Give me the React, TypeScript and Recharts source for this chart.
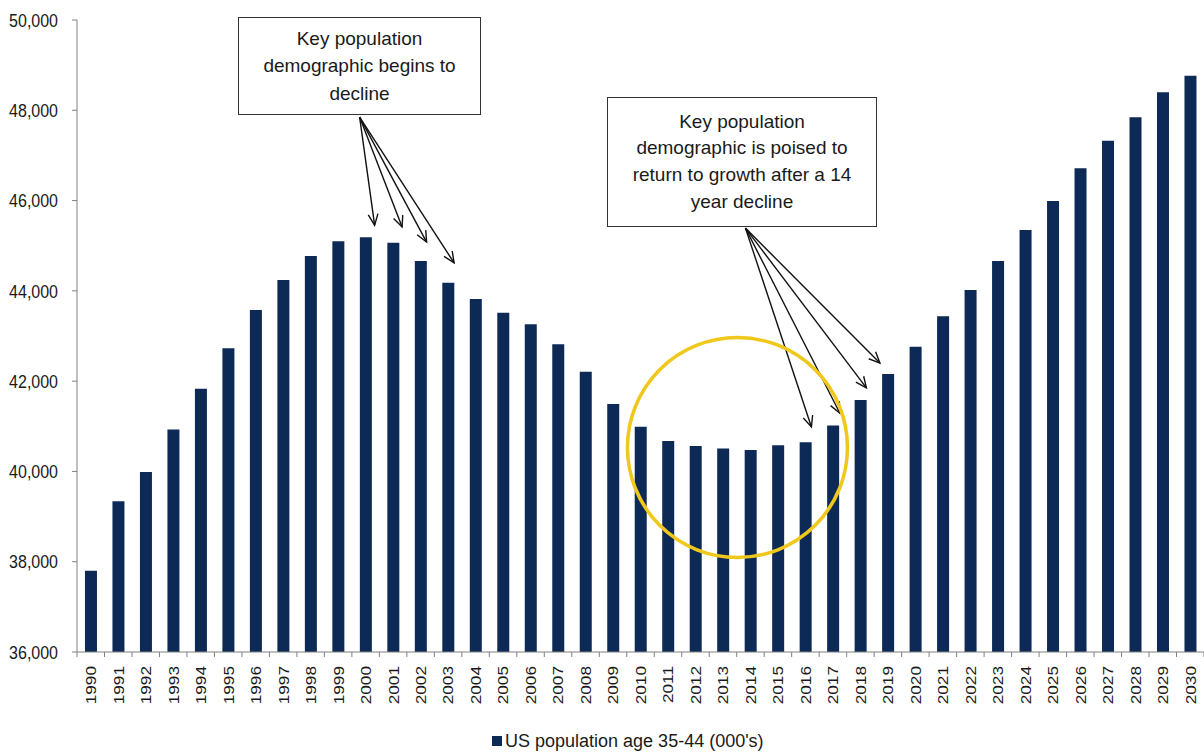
import React from "react";
import {
  BarChart,
  Bar,
  XAxis,
  YAxis,
  Legend,
  ReferenceLine,
  ReferenceDot,
} from "recharts";

// ---- data -------------------------------------------------------------
const YEARS = [
  "1990", "1991", "1992", "1993", "1994", "1995", "1996", "1997", "1998", "1999",
  "2000", "2001", "2002", "2003", "2004", "2005", "2006", "2007", "2008", "2009",
  "2010", "2011", "2012", "2013", "2014", "2015", "2016", "2017", "2018", "2019",
  "2020", "2021", "2022", "2023", "2024", "2025", "2026", "2027", "2028", "2029",
  "2030",
];

// US population age 35-44, thousands
const POPULATION = [
  37800, 39340, 39990, 40930, 41830, 42730, 43575, 44240, 44770, 45100,
  45185, 45065, 44660, 44180, 43820, 43515, 43260, 42815, 42210, 41495,
  40990, 40675, 40565, 40510, 40475, 40580, 40645, 41020, 41580, 42160,
  42760, 43440, 44020, 44660, 45350, 45990, 46715, 47325, 47845, 48400,
  48765,
];

const Y_TICKS = [36000, 38000, 40000, 42000, 44000, 46000, 48000, 50000];
const SERIES_NAME = "US population age 35-44 (000's)";

const NOTE_DECLINE = ["Key population", "demographic begins to", "decline"];
const NOTE_GROWTH = [
  "Key population",
  "demographic is poised to",
  "return to growth after a 14",
  "year decline",
];

// arrows: origin (year, value) under a note box -> a bar, lifted above its top
const DECLINE_ORIGIN = { year: "2000", value: 47850 };
const DECLINE_TARGETS = [
  { year: "2000", lift: 270 },
  { year: "2001", lift: 350 },
  { year: "2002", lift: 420 },
  { year: "2003", lift: 440 },
];
const GROWTH_ORIGIN = { year: "2014", value: 45390 };
const GROWTH_TARGETS = [
  { year: "2016", lift: 340 },
  { year: "2017", lift: 270 },
  { year: "2018", lift: 270 },
  { year: "2019", lift: 240 },
];
// ring around the trough
const TROUGH = { year: "2014", value: 40530 };

const data = YEARS.map((year, i) => ({ year, pop: POPULATION[i] }));
const valueOf = (year: string) => POPULATION[YEARS.indexOf(year)];

// ---- style / layout ---------------------------------------------------
const CHART_W = 1204;
const CHART_H = 755;
const Y_AXIS_W = 77;
const MARGIN = { top: 20, right: 0, left: 0, bottom: 3 };
const X_AXIS_H = 78;
const TICK_SIZE = 5;
const X_TICK_MARGIN = 9;
const NAVY = "#0C2A55";
const GOLD = "#F0C81C";
const AXIS = "#808080";
const TEXT = "#1A1A1A";
const FONT = "'Liberation Sans', Arial, Helvetica, sans-serif";
const PLOT_W = CHART_W - Y_AXIS_W - MARGIN.left - MARGIN.right;

const fmt = (v: number) => v.toLocaleString("en-US");

const YTick = (props: any) => {
  const { x, y, payload } = props;
  return (
    <g transform={`translate(${x},${y}) scale(1,1.2)`}>
      <text x={0} y={0} dy="0.35em" textAnchor="end" fontSize={16} fill={TEXT} fontFamily={FONT}>
        {fmt(payload.value)}
      </text>
    </g>
  );
};

const XTick = (props: any) => {
  const { x, y, payload, index } = props;
  const axisW = typeof props.width === "number" && props.width > 0 ? props.width : PLOT_W;
  const band = axisW / YEARS.length;
  const y0 = y - X_TICK_MARGIN - TICK_SIZE;
  const y1 = y - X_TICK_MARGIN;
  return (
    <g>
      <line x1={x - band / 2} x2={x - band / 2} y1={y0} y2={y1} stroke={AXIS} strokeWidth={1} />
      {index === YEARS.length - 1 && (
        <line x1={x + band / 2} x2={x + band / 2} y1={y0} y2={y1} stroke={AXIS} strokeWidth={1} />
      )}
      <text
        transform={`translate(${x},${y}) rotate(-90) scale(1.15,1)`}
        x={0}
        y={0}
        dy="0.36em"
        textAnchor="end"
        fontSize={15}
        fill={TEXT}
        fontFamily={FONT}
      >
        {payload.value}
      </text>
    </g>
  );
};

const arrowShape = (originNudge: number, tipNudge: number) => (p: any) => {
  const x1 = p.x1 + originNudge;
  const y1 = p.y1;
  const x2 = p.x2 + tipNudge;
  const y2 = p.y2;
  const a = Math.atan2(y2 - y1, x2 - x1);
  const L = 12;
  const h = (24 * Math.PI) / 180;
  const ax = x2 - L * Math.cos(a - h);
  const ay = y2 - L * Math.sin(a - h);
  const bx = x2 - L * Math.cos(a + h);
  const by = y2 - L * Math.sin(a + h);
  return (
    <g>
      <line x1={x1} y1={y1} x2={x2} y2={y2} stroke="#111" strokeWidth={1.4} />
      <polyline points={`${ax},${ay} ${x2},${y2} ${bx},${by}`} fill="none" stroke="#111" strokeWidth={1.4} />
    </g>
  );
};

const ringShape = (p: any) => (
  <circle cx={p.cx - 13} cy={p.cy} r={110} fill="none" stroke={GOLD} strokeWidth={3.5} />
);

const LegendContent = () => (
  <div
    style={{
      display: "flex",
      alignItems: "center",
      height: 22,
      fontFamily: FONT,
      fontSize: 18,
      color: TEXT,
      whiteSpace: "nowrap",
    }}
  >
    <span style={{ display: "inline-block", width: 10, height: 10, background: NAVY, marginRight: 3 }} />
    {SERIES_NAME}
  </div>
);

const NoteBox = ({
  lines,
  left,
  top,
  width,
  height,
  lineHeight,
}: {
  lines: string[];
  left: number;
  top: number;
  width: number;
  height: number;
  lineHeight: number;
}) => (
  <div
    style={{
      position: "absolute",
      left,
      top,
      width,
      height,
      boxSizing: "border-box",
      border: "1.5px solid #333",
      background: "#fff",
      display: "flex",
      flexDirection: "column",
      justifyContent: "center",
      alignItems: "center",
      fontFamily: FONT,
      fontSize: 19,
      lineHeight: `${lineHeight}px`,
      color: TEXT,
      textAlign: "center",
    }}
  >
    {lines.map((l) => (
      <div key={l}>{l}</div>
    ))}
  </div>
);

export default function App() {
  return (
    <div
      style={{
        position: "absolute",
        left: 0,
        top: 0,
        width: CHART_W,
        height: CHART_H,
        background: "#fff",
        fontFamily: FONT,
      }}
    >
      <BarChart width={CHART_W} height={CHART_H} data={data} margin={MARGIN} barCategoryGap="29%">
        <XAxis
          dataKey="year"
          interval={0}
          height={X_AXIS_H}
          tickSize={TICK_SIZE}
          tickMargin={X_TICK_MARGIN}
          tickLine={false}
          axisLine={{ stroke: AXIS, strokeWidth: 1 }}
          tick={<XTick />}
        />
        <YAxis
          width={Y_AXIS_W}
          domain={[36000, 50000]}
          ticks={Y_TICKS}
          interval={0}
          allowDataOverflow
          tickSize={TICK_SIZE}
          tickMargin={14}
          tickLine={{ stroke: AXIS }}
          axisLine={{ stroke: AXIS, strokeWidth: 1 }}
          tick={<YTick />}
        />
        <Legend
          verticalAlign="bottom"
          align="left"
          wrapperStyle={{ left: 492, width: 320 }}
          content={<LegendContent />}
        />
        <Bar dataKey="pop" name={SERIES_NAME} fill={NAVY} isAnimationActive={false} />
        <ReferenceDot
          x={TROUGH.year}
          y={TROUGH.value}
          r={110}
          shape={ringShape}
          ifOverflow="visible"
        />
        {DECLINE_TARGETS.map((t, i) => (
          <ReferenceLine
            key={`d${t.year}`}
            segment={[
              { x: DECLINE_ORIGIN.year, y: DECLINE_ORIGIN.value },
              { x: t.year, y: valueOf(t.year) + t.lift },
            ]}
            ifOverflow="visible"
            shape={arrowShape(-6, [9, 9, 6, 6][i])}
          />
        ))}
        {GROWTH_TARGETS.map((t, i) => (
          <ReferenceLine
            key={`g${t.year}`}
            segment={[
              { x: GROWTH_ORIGIN.year, y: GROWTH_ORIGIN.value },
              { x: t.year, y: valueOf(t.year) + t.lift },
            ]}
            ifOverflow="visible"
            shape={arrowShape(-5, [6, 7, 6, -8][i])}
          />
        ))}
      </BarChart>
      <NoteBox lines={NOTE_DECLINE} left={238} top={17} width={243} height={98} lineHeight={27.5} />
      <NoteBox lines={NOTE_GROWTH} left={607} top={97} width={270} height={130} lineHeight={26.7} />
    </div>
  );
}
